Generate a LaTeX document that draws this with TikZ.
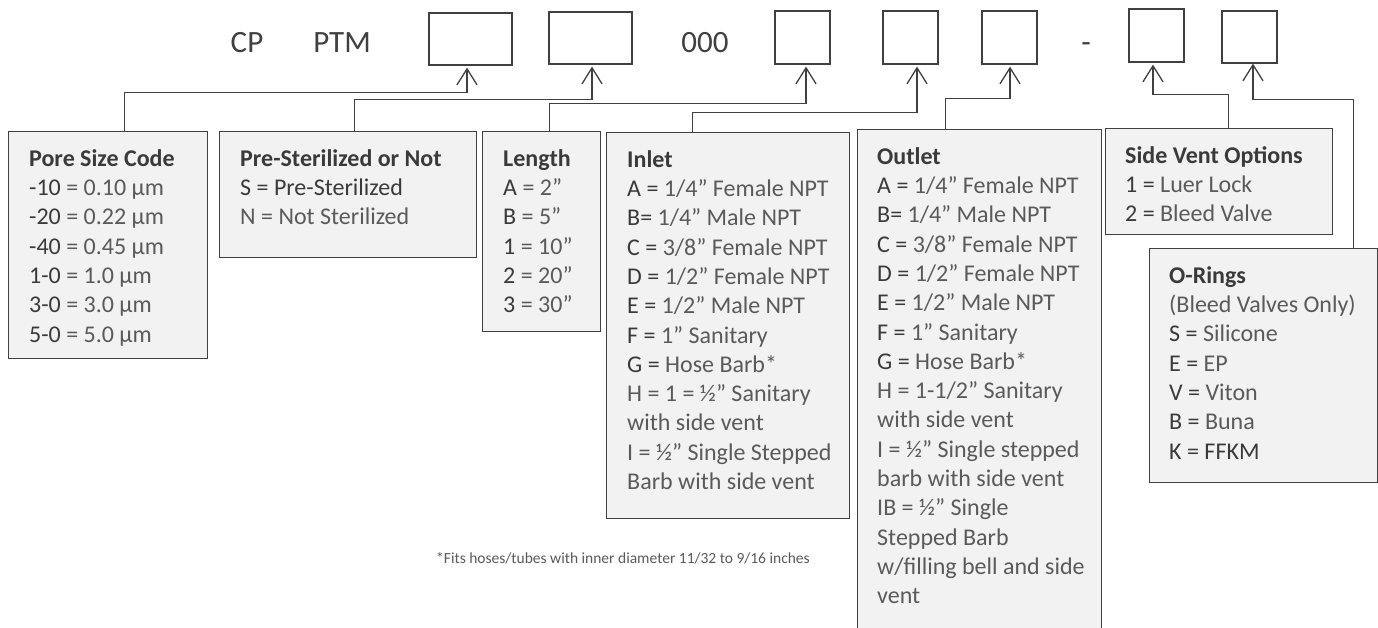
\documentclass[tikz,border=0pt]{standalone}
\usepackage{fontspec}
\setmainfont{Carlito}
\usetikzlibrary{arrows.meta}
\definecolor{linec}{HTML}{404040}
\definecolor{boxfill}{HTML}{F2F2F2}
\definecolor{codec}{HTML}{3A3A3A}
\definecolor{bodyc}{HTML}{5A5A5A}
\newcommand\cd[1]{{\color{codec}#1}}
\newcommand\ttl[1]{\strut{\bfseries\color{codec}#1}}
\begin{document}
\begin{tikzpicture}[x=1pt,y=-1pt,
  topbox/.style={draw=linec, line width=1.2pt, inner sep=0pt},
  descbox/.style={draw=linec, fill=boxfill, line width=1.4pt, anchor=north west, inner sep=0pt},
  desctext/.style={anchor=north west, inner sep=0pt, align=left, text=bodyc, font=\fontsize{24}{29.3}\selectfont},
  toptext/.style={anchor=base, inner sep=0pt, text=linec, font=\fontsize{31}{36}\selectfont},
  conn/.style={draw=linec, line width=1.3pt, -{Straight Barb[length=16pt,width=20pt]}, shorten >=2pt},
]
\useasboundingbox[fill=white] (0,0) rectangle (1378,627);

% top code row
\node[toptext] (cp) at (247,52) {CP};
\node[toptext] (ptm) at (342,52) {PTM};
\node[toptext] (zeros) at (705,52) {000};
\node[toptext] (dash) at (1086,52) {-};
\node[topbox, minimum width=83pt, minimum height=52pt] (b1) at (470.5,39) {};
\node[topbox, minimum width=83pt, minimum height=52pt] (b2) at (590.5,38) {};
\node[topbox, minimum width=55pt, minimum height=53pt] (b3) at (802.5,37.5) {};
\node[topbox, minimum width=55pt, minimum height=53pt] (b4) at (910.5,37.5) {};
\node[topbox, minimum width=55pt, minimum height=53pt] (b5) at (1009.5,37.5) {};
\node[topbox, minimum width=55pt, minimum height=53pt] (b6) at (1156.5,35.5) {};
\node[topbox, minimum width=55pt, minimum height=52pt] (b7) at (1249.5,37) {};

% description boxes
\node[descbox, minimum width=199pt, minimum height=227pt] (pore) at (8,131) {};
\node[descbox, minimum width=257pt, minimum height=126pt] (pres) at (219,131) {};
\node[descbox, minimum width=118pt, minimum height=200pt] (len) at (482,131) {};
\node[descbox, minimum width=243pt, minimum height=386pt] (inlet) at (606,132) {};
\node[descbox, minimum width=244pt, minimum height=505pt] (outlet) at (857,129) {};
\node[descbox, minimum width=227pt, minimum height=106pt] (side) at (1105,128) {};
\node[descbox, minimum width=228pt, minimum height=234pt] (oring) at (1149,248) {};

% texts
\node[desctext] (poret) at (29,145.5) {\ttl{Pore Size Code}\\
\cd{-10} = 0.10 µm\\ \cd{-20} = 0.22 µm\\ \cd{-40} = 0.45 µm\\
\cd{1-0} = 1.0 µm\\ \cd{3-0} = 3.0 µm\\ \cd{5-0} = 5.0 µm};
\node[desctext] (prest) at (240,145.5) {\ttl{Pre-Sterilized or Not}\\
\cd{S = Pre-Sterilized}\\ N = Not Sterilized};
\node[desctext] (lent) at (503,145.5) {\ttl{Length}\\
\cd{A} = 2”\\ \cd{B} = 5”\\ \cd{1} = 10”\\ \cd{2} = 20”\\ \cd{3} = 30”};
\node[desctext] (inlett) at (627,146.5) {\ttl{Inlet}\\
\cd{A =} 1/4” Female NPT\\ \cd{B=} 1/4” Male NPT\\ \cd{C =} 3/8” Female NPT\\
\cd{D =} 1/2” Female NPT\\ \cd{E =} 1/2” Male NPT\\ \cd{F =} 1” Sanitary\\
\cd{G =} Hose Barb*\\ H = 1 = ½” Sanitary\\ with side vent\\
I = ½” Single Stepped\\ Barb with side vent};
\node[desctext] (outlett) at (877,143.5) {\ttl{Outlet}\\
\cd{A =} 1/4” Female NPT\\ \cd{B=} 1/4” Male NPT\\ \cd{C =} 3/8” Female NPT\\
\cd{D =} 1/2” Female NPT\\ \cd{E =} 1/2” Male NPT\\ \cd{F =} 1” Sanitary\\
\cd{G =} Hose Barb*\\ H = 1-1/2” Sanitary\\ with side vent\\
I = ½” Single stepped\\ barb with side vent\\ IB = ½” Single\\ Stepped Barb\\
w/filling bell and side\\ vent};
\node[desctext] (sidet) at (1125,142.5) {\ttl{Side Vent Options}\\
\cd{1 =} Luer Lock\\ \cd{2 =} Bleed Valve};
\node[desctext] (oringt) at (1169,262.5) {\ttl{O-Rings}\\
(Bleed Valves Only)\\ \cd{S =} Silicone\\ \cd{E =} EP\\ \cd{V =} Viton\\
\cd{B =} Buna\\ \cd{K = FFKM}};

\node[anchor=base, inner sep=0pt, text=bodyc, font=\fontsize{15.5}{18}\selectfont] (note) at (623,563)
  {*Fits hoses/tubes with inner diameter 11/32 to 9/16 inches};

% connectors
\draw[conn] ([xshift=16.5pt]pore.north) |- ([xshift=-3.5pt,yshift=-27pt]b1.south) -- ([xshift=-3.5pt]b1.south);
\draw[conn] ([xshift=6.5pt]pres.north) |- ([xshift=1.5pt,yshift=-35pt]b2.south) -- ([xshift=1.5pt]b2.south);
\draw[conn] ([xshift=8pt]len.north) |- ([xshift=3.5pt,yshift=-39pt]b3.south) -- ([xshift=3.5pt]b3.south);
\draw[conn] ([xshift=-35.5pt]inlet.north) |- ([xshift=6.5pt,yshift=-48pt]b4.south) -- ([xshift=6.5pt]b4.south);
\draw[conn] ([xshift=-34pt]outlet.north) |- ([xshift=0.5pt,yshift=-34pt]b5.south) -- ([xshift=0.5pt]b5.south);
\draw[conn] ([xshift=9.5pt]side.north) |- ([xshift=-3.5pt,yshift=-32pt]b6.south) -- ([xshift=-3.5pt]b6.south);
\draw[conn, shorten >=0pt] ([xshift=90pt]oring.north) |- ([xshift=3.5pt,yshift=-36pt]b7.south) -- ([xshift=3.5pt]b7.south);
\end{tikzpicture}
\end{document}
